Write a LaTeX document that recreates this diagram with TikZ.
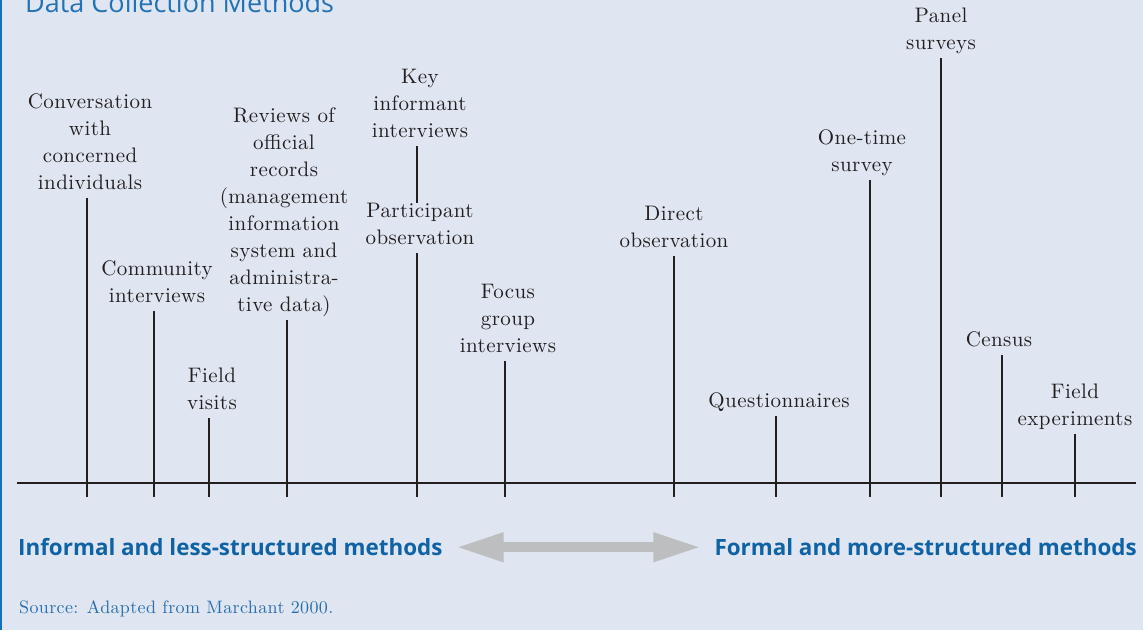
\documentclass[tikz,border=0pt]{standalone}
\usepackage{fontspec}
\newfontfamily\osans{Open Sans}
\newfontfamily\labserif{lmroman10-regular.otf}[LetterSpace=2]
\usetikzlibrary{arrows.meta}
\definecolor{bgblue}{HTML}{DFE6F1}
\definecolor{edgeblue}{HTML}{1670B8}
\definecolor{headblue}{HTML}{0F62A4}
\definecolor{titleblue}{HTML}{2272B5}
\definecolor{srcblue}{HTML}{2A6DAD}
\definecolor{ink}{HTML}{231F20}
\definecolor{arrowgrey}{HTML}{BDBEC0}
\newcommand{\labfont}{\labserif\fontsize{21}{27}\selectfont}
\tikzset{
  lab/.style={font=\labfont, align=center, anchor=south, inner sep=0pt, text=ink,
    execute at begin node=\strut, execute at end node=\strut},
  stem/.style={draw=ink, line width=2.6pt},
  axisline/.style={draw=ink, line width=2.8pt},
  headlab/.style={font={\osans\bfseries\fontsize{22.4}{26}\selectfont}, text=headblue, inner sep=0pt},
  bigarrow/.style={draw=arrowgrey, line width=10pt,
    {Triangle[length=48pt,width=27pt]}-{Triangle[length=48pt,width=27pt]}}
}
\begin{document}
\begin{tikzpicture}[x=1pt,y=-1pt]
\useasboundingbox (0,0) rectangle (1143,630);
\clip (0,0) rectangle (1143,630);
\fill[bgblue] (0,0) rectangle (1143,630);
\fill[edgeblue] (0,0) rectangle (2,630);

% title
\node[anchor=base west, inner sep=0pt, text=titleblue, font={\osans\fontsize{27}{30}\selectfont}] (title) at (25,12.5) {Data Collection Methods};

% axis
\coordinate (axL) at (17,483);
\coordinate (axR) at (1136,483);
\draw[axisline] (axL) -- (axR);

% tick bottoms
\coordinate (t1) at (87,497);
\coordinate (t2) at (154,497);
\coordinate (t3) at (209,497);
\coordinate (t4) at (287,497);
\coordinate (t5) at (417,497);
\coordinate (t6) at (505,497);
\coordinate (t7) at (674,497);
\coordinate (t8) at (776,497);
\coordinate (t9) at (870,497);
\coordinate (t10) at (941,497);
\coordinate (t11) at (1002,497);
\coordinate (t12) at (1075,497);

% labels (anchor south = last baseline + 8.1)
\node[lab] (conv) at (90,198.1) {Conversation\\with\\concerned\\individuals};
\node[lab] (comm) at (157,310.8) {Community\\interviews};
\node[lab] (field) at (212,418.1) {Field\\visits};
\node[lab] (rev) at (284,319.8) {Reviews of\\official\\records\\(management\\information\\system and\\administra-\\tive data)};
\node[lab] (key) at (420,146.1) {Key\\informant\\interviews};
\node[lab] (part) at (420,253.1) {Participant\\observation};
\node[lab] (focus) at (508,361.1) {Focus\\group\\interviews};
\node[lab] (direct) at (674,256.1) {Direct\\observation};
\node[lab] (quest) at (779,416.1) {Questionnaires};
\node[lab] (once) at (862,180.1) {One-time\\survey};
\node[lab] (panel) at (941,58.1) {Panel\\surveys};
\node[lab] (census) at (999,355.1) {Census};
\node[lab] (fexp) at (1075,434.1) {Field\\experiments};

% stems
\draw[stem] (t1 |- conv.south) -- (t1);
\draw[stem] (t2 |- comm.south) -- (t2);
\draw[stem] (t3 |- field.south) -- (t3);
\draw[stem] (t4 |- rev.south) -- (t4);
\draw[stem] (t5 |- key.south) -- (t5 |- part.north);
\draw[stem] (t5 |- part.south) -- (t5);
\draw[stem] (t6 |- focus.south) -- (t6);
\draw[stem] (t7 |- direct.south) -- (t7);
\draw[stem] (t8 |- quest.south) -- (t8);
\draw[stem] (t9 |- once.south) -- (t9);
\draw[stem] (t10 |- panel.south) -- (t10);
\draw[stem] (t11 |- census.south) -- (t11);
\draw[stem] (t12 |- fexp.south) -- (t12);

% bottom scale
\node[headlab, anchor=base west] (inf) at (18,555.7) {Informal and less-structured methods};
\node[headlab, anchor=base east] (form) at (1137,555.7) {Formal and more-structured methods};
\draw[bigarrow, shorten <=13pt, shorten >=13pt] (inf.east) -- (inf.east -| form.west);

% source
\node[anchor=base west, inner sep=0pt, text=srcblue, font={\labserif\fontsize{18}{22}\selectfont}] (src) at (19,613.3) {Source: Adapted from Marchant 2000.};
\end{tikzpicture}
\end{document}
